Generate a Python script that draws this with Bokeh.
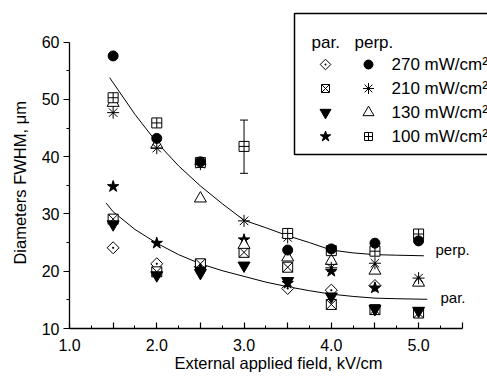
import math
from bokeh.plotting import figure
from bokeh.models import FixedTicker, Label, Whisker, TeeHead, ColumnDataSource
from bokeh.embed import file_html
from bokeh.resources import INLINE

nan = float("nan")

# ---------------- data ----------------
field = [1.5, 2.0, 2.5, 3.0, 3.5, 4.0, 4.5, 5.0]

perp_270 = [57.6, 43.2, 39.1, nan, 23.7, 23.9, 24.9, 25.3]
perp_210 = [47.7, 41.5, 38.7, 28.8, 25.9, 20.6, 21.4, 18.8]
perp_130 = [49.4, 42.1, 32.7, 24.6, 22.4, 21.8, 20.1, 18.0]
perp_100 = [50.3, 45.9, 39.0, 41.8, 26.6, 23.6, 23.5, 26.5]

par_270 = [24.1, 21.3, 20.8, nan, 17.0, 16.7, 17.5, nan]
par_210 = [29.1, 19.9, 21.3, 23.3, 20.7, 14.2, 13.3, 12.7]
par_130 = [28.2, 19.3, 19.7, 21.0, 18.3, 15.6, 13.4, 13.1]
par_100 = [34.8, 24.9, 20.4, 25.5, 17.9, 20.0, 17.1, nan]

# error bar on the 100 mW/cm2 perp point at 3.0 kV/cm
err_x = [3.0]
err_lower = [37.1]
err_upper = [46.4]

# trend curves
perp_fit_x = [1.46, 1.75, 2.0, 2.25, 2.5, 2.75, 3.0, 3.25, 3.5, 3.75, 4.0, 4.25, 4.5, 4.75, 5.06]
perp_fit_y = [53.8, 47.4, 42.5, 38.4, 34.9, 31.8, 28.9, 27.6, 26.2, 25.0, 23.7, 23.2, 22.9, 22.8, 22.7]
par_fit_x = [1.42, 1.5, 1.75, 2.0, 2.25, 2.5, 2.75, 3.0, 3.25, 3.5, 3.75, 4.0, 4.25, 4.5, 4.75, 5.1]
par_fit_y = [31.9, 30.4, 27.3, 24.9, 22.9, 21.3, 20.1, 19.1, 18.1, 17.3, 16.6, 16.0, 15.6, 15.3, 15.2, 15.1]

x_ticks = [1.0, 1.5, 2.0, 2.5, 3.0, 3.5, 4.0, 4.5, 5.0, 5.5]
x_tick_labels = ["1.0", "", "2.0", "", "3.0", "", "4.0", "", "5.0", ""]
y_ticks = [10, 20, 30, 40, 50, 60]

legend_labels = ["270 mW/cm\u00b2", "210 mW/cm\u00b2", "130 mW/cm\u00b2", "100 mW/cm\u00b2"]

FONT = "Liberation Sans"
NBSP = "\u00a0"

# ---------------- geometry ----------------
W, H = 487, 376
FL, FT_AX, FB = 69.0, 41.7, 328.0   # frame left, y=60 position, frame bottom (px)
X_MIN, X_AX_MAX = 1.0, 5.5
Y_MIN, Y_AX_MAX = 10.0, 60.0
PXU_X = 87.27
PXU_Y = (FB - FT_AX) / (Y_AX_MAX - Y_MIN)
X_END = X_MIN + (W - FL) / PXU_X
Y_END = Y_AX_MAX + FT_AX / PXU_Y


def dx(px):
    return X_MIN + (px - FL) / PXU_X


def dy(py):
    return Y_AX_MAX - (py - FT_AX) / PXU_Y


p = figure(width=W, height=H, output_backend="svg", toolbar_location=None,
           x_range=(X_MIN, X_END), y_range=(Y_MIN, Y_END),
           min_border_left=int(FL), min_border_right=0, min_border_top=0,
           min_border_bottom=int(H - FB))
p.outline_line_color = None
p.xgrid.visible = False
p.ygrid.visible = False
p.background_fill_color = "white"
p.border_fill_color = "white"

# axes
xa = p.xaxis[0]
xa.bounds = (X_MIN, X_AX_MAX)
xa.ticker = FixedTicker(ticks=x_ticks, minor_ticks=[1.25 + 0.5 * i for i in range(9)])
xa.major_label_overrides = {t: l for t, l in zip(x_ticks, x_tick_labels)}
xa.major_tick_in = 6
xa.major_tick_out = 0
xa.minor_tick_in = 3
xa.minor_tick_out = 0
xa.major_label_standoff = 10
xa.axis_label = "External applied field, kV/cm"
xa.axis_label_standoff = 0
ya = p.yaxis[0]
ya.bounds = (Y_MIN, Y_AX_MAX)
ya.ticker = FixedTicker(ticks=y_ticks, minor_ticks=[15, 25, 35, 45, 55])
ya.major_tick_in = 0
ya.major_tick_out = 6
ya.minor_tick_in = 0
ya.minor_tick_out = 3
ya.major_label_standoff = 4
# trailing no-break spaces move the centred title down to the middle of the axis bounds
ya.axis_label = "Diameters FWHM, \u03bcm" + NBSP * 8
ya.axis_label_standoff = 10
for ax in (xa, ya):
    ax.axis_line_width = 1.3
    ax.axis_line_color = "black"
    ax.major_tick_line_color = "black"
    ax.minor_tick_line_color = "black"
    ax.major_tick_line_width = 1.2
    ax.major_label_text_font = FONT
    ax.major_label_text_font_size = "16px"
    ax.major_label_text_color = "black"
    ax.axis_label_text_font = FONT
    ax.axis_label_text_font_size = "16.5px"
    ax.axis_label_text_font_style = "normal"
    ax.axis_label_text_color = "black"

# curves
p.line(perp_fit_x, perp_fit_y, line_color="black", line_width=1)
p.line(par_fit_x, par_fit_y, line_color="black", line_width=1)

# error bar
src_err = ColumnDataSource(dict(x=err_x, lower=err_lower, upper=err_upper))
p.add_layout(Whisker(base="x", lower="lower", upper="upper", source=src_err,
                     line_color="black", line_width=1,
                     upper_head=TeeHead(size=8, line_color="black", line_width=1),
                     lower_head=TeeHead(size=8, line_color="black", line_width=1)))

# series
DIAMOND = dict(marker="square_dot", angle=math.pi / 4)
styles = [
    (par_270, DIAMOND, 8.5, "white"),
    (par_210, dict(marker="square_x"), 10, "white"),
    (par_130, dict(marker="inverted_triangle"), 12, "black"),
    (par_100, dict(marker="star"), 12, "black"),
    (perp_130, dict(marker="triangle"), 12, "white"),
    (perp_210, dict(marker="asterisk"), 12, "white"),
    (perp_100, dict(marker="square_cross"), 10, "white"),
    (perp_270, dict(marker="circle"), 10, "black"),
]
for ys, mk, sz, fc in styles:
    p.scatter(field, ys, size=sz, fill_color=fc, line_color="black",
              line_width=1, **mk)

# labels near curves
p.add_layout(Label(x=dx(435), y=dy(249), text="perp.", text_font=FONT,
                   text_font_size="15px", text_baseline="middle", text_color="black"))
p.add_layout(Label(x=dx(440), y=dy(297), text="par.", text_font=FONT,
                   text_font_size="15px", text_baseline="middle", text_color="black"))

# legend box
p.quad(left=[dx(294)], right=[dx(520)], top=[dy(13)], bottom=[dy(154)],
       fill_color="white", line_color="black", line_width=1.5)
p.add_layout(Label(x=dx(311), y=dy(42), text="par.", text_font=FONT,
                   text_font_size="17px", text_baseline="middle", text_color="black"))
p.add_layout(Label(x=dx(354), y=dy(42), text="perp.", text_font=FONT,
                   text_font_size="17px", text_baseline="middle", text_color="black"))
row_py = [64, 88, 112, 136]
par_leg = [(DIAMOND, 7.5, "white"), (dict(marker="square_x"), 8, "white"),
           (dict(marker="inverted_triangle"), 11, "black"), (dict(marker="star"), 11, "black")]
perp_leg = [(dict(marker="circle"), 9, "black"), (dict(marker="asterisk"), 11, "white"),
            (dict(marker="triangle"), 11, "white"), (dict(marker="square_cross"), 8, "white")]
for i, py in enumerate(row_py):
    mk, sz, fc = par_leg[i]
    p.scatter([dx(325)], [dy(py)], size=sz, fill_color=fc,
              line_color="black", line_width=1, **mk)
    mk, sz, fc = perp_leg[i]
    p.scatter([dx(368)], [dy(py)], size=sz, fill_color=fc,
              line_color="black", line_width=1, **mk)
    p.add_layout(Label(x=dx(391), y=dy(py), text=legend_labels[i], text_font=FONT,
                       text_font_size="17px", text_baseline="middle",
                       text_color="black"))

open("out.html", "w").write(file_html(p, INLINE))
